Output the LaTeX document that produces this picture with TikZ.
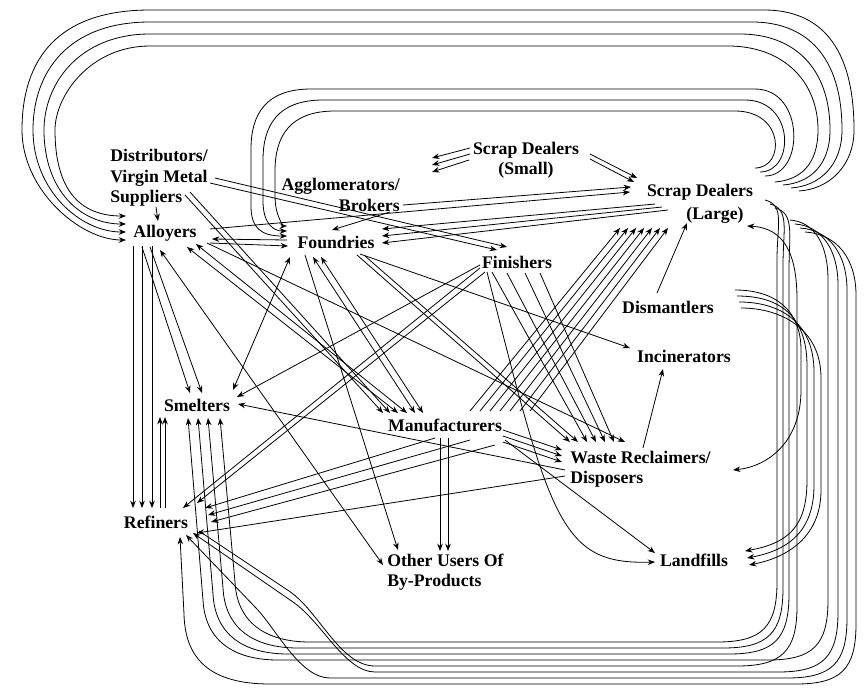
\documentclass[tikz,border=0pt]{standalone}
\usepackage{fontspec}
\setmainfont{Liberation Serif}
\usetikzlibrary{arrows.meta}
\newcommand{\NP}[3]{([shift={(#2,#3)}]#1)}
\begin{document}
\begin{tikzpicture}[x=0.75pt,y=-0.75pt,
  txt/.style={font=\fontsize{13.3}{15.4}\selectfont\bfseries,inner sep=0pt},
  ln/.style={line width=0.6pt,black},
  ar/.style={ln,-{Stealth[length=5.5pt,width=4.2pt]}},
  arb/.style={ln,{Stealth[length=5.5pt,width=4.2pt]}-{Stealth[length=5.5pt,width=4.2pt]}}]
\fill[white] (0,0) rectangle (864,690);
\useasboundingbox (0,0) rectangle (864,690);

% nodes
\node[txt,align=left,anchor=west] (dist) at (110,178) {Distributors/\\Virgin Metal\\Suppliers};
\node[txt,align=right,anchor=east] (aggl) at (400,195) {Agglomerators/\\Brokers};
\node[txt,align=center] (small) at (526,160) {Scrap Dealers\\(Small)};
\node[txt] (large) at (700,192) {Scrap Dealers};
\node[txt] (large2) at (715,215) {(Large)};
\node[txt] (allo) at (165,233) {Alloyers};
\node[txt] (found) at (336,242) {Foundries};
\node[txt] (fin) at (517,262) {Finishers};
\node[txt] (dism) at (668,307) {Dismantlers};
\node[txt] (inc) at (684,356) {Incinerators};
\node[txt] (smel) at (197,405) {Smelters};
\node[txt] (manu) at (445,425) {Manufacturers};
\node[txt,align=left,anchor=west] (wr) at (570,469) {Waste Reclaimers/\\Disposers};
\node[txt] (refi) at (156,522) {Refiners};
\node[txt,align=left,anchor=west] (other) at (387,572) {Other Users Of\\By-Products};
\node[txt] (land) at (694,560) {Landfills};

% distributors
\draw[ar] \NP{dist.west}{46}{29} -- \NP{allo.center}{-7}{-12};
\draw[ar] \NP{dist.west}{100}{5} -- \NP{fin.center}{-20}{-12};
\draw[ar] \NP{dist.west}{105}{0} -- \NP{fin.center}{-10}{-15};
\draw[ar] \NP{dist.west}{75}{17} -- \NP{manu.center}{-62}{-12};
\draw[ar] \NP{dist.west}{80}{14} -- \NP{manu.center}{-55}{-12};

% agglomerators / brokers / small dealers
\draw[ar] \NP{aggl.east}{-10}{17} -- \NP{found.center}{-4}{-12};
\draw[ar] \NP{aggl.east}{3}{10} -- \NP{large.center}{-69}{-5};
\draw[ar] \NP{small.center}{-56}{-12} -- \NP{aggl.east}{32}{-37};
\draw[ar] \NP{small.center}{-56}{-6} -- \NP{aggl.east}{32}{-30};
\draw[ar] \NP{small.center}{-57}{0} -- \NP{aggl.east}{32}{-23};
\draw[ar] \NP{small.center}{64}{-6} -- \NP{large.center}{-63}{-14};
\draw[ar] \NP{small.center}{64}{-1} -- \NP{large.center}{-66}{-10};

% alloyers / foundries / large
\draw[ar] \NP{allo.center}{45}{-4} -- \NP{large.center}{-70}{0};
\draw[ar] \NP{large.center}{-45}{12} -- \NP{found.center}{46}{-13};
\draw[ar] \NP{large.center}{-38}{15} -- \NP{found.center}{46}{-6};
\draw[ar] \NP{large.center}{-32}{18} -- \NP{found.center}{46}{1};
\draw[ar] \NP{found.center}{-49}{-2} -- \NP{allo.center}{47}{6};
\draw[ar] \NP{allo.center}{45}{10} -- \NP{found.center}{-48}{4};

% alloyers down
\foreach \k in {-32,-23,-13}{\draw[ar] \NP{allo.center}{\k}{13} -- \NP{refi.center}{\k+9}{-14};}
\draw[ar] \NP{refi.center}{4}{-14} -- \NP{smel.center}{-37}{12};
\draw[ar] \NP{refi.center}{9}{-14} -- \NP{smel.center}{-32}{12};
\draw[ar] \NP{allo.center}{-23}{14} -- \NP{smel.center}{-7}{-12};
\draw[ar] \NP{allo.center}{-15}{14} -- \NP{smel.center}{5}{-12};
\draw[arb] \NP{allo.center}{-5}{17} -- \NP{other.west}{-4}{-7};
\draw[arb] \NP{allo.center}{22}{14} -- \NP{manu.center}{-47}{-12};
\draw[arb] \NP{allo.center}{31}{11} -- \NP{manu.center}{-38}{-12};
\draw[ar] \NP{allo.center}{42}{10} -- \NP{wr.west}{55}{-27};

% foundries
\draw[arb] \NP{found.center}{-23}{15} -- \NP{manu.center}{-30}{-12};
\draw[arb] \NP{found.center}{-15}{15} -- \NP{manu.center}{-22}{-12};
\draw[arb] \NP{found.center}{-46}{15} -- \NP{smel.center}{36}{-15};
\draw[ar] \NP{found.center}{-31}{13} -- \NP{other.west}{11}{-22};
\draw[ar] \NP{found.center}{24}{12} -- \NP{inc.center}{-54}{-8};
\draw[ar] \NP{found.center}{21}{13} -- \NP{wr.west}{0}{-27};
\draw[ar] \NP{found.center}{29}{14} -- \NP{wr.west}{8}{-27};

% finishers
\draw[ar] \NP{fin.center}{-25}{10} -- \NP{wr.west}{17}{-27};
\draw[ar] \NP{fin.center}{-10}{11} -- \NP{wr.west}{26}{-27};
\draw[ar] \NP{fin.center}{8}{11} -- \NP{wr.west}{35}{-27};
\draw[ar] \NP{fin.center}{23}{11} -- \NP{wr.west}{44}{-27};
\draw[ar] \NP{fin.center}{-37}{6} -- \NP{refi.center}{27}{-14};
\draw[ar] \NP{fin.center}{-32}{10} -- \NP{refi.center}{41}{-19};
\draw[ar] \NP{fin.center}{-37}{3} -- \NP{smel.center}{40}{-8};
\draw[ar] \NP{fin.center}{-30}{10} .. controls \NP{fin.center}{33}{258} and \NP{land.center}{-134}{5} .. \NP{land.center}{-39}{2};

% manufacturers
\draw[ar] \NP{manu.center}{58}{5} -- \NP{wr.west}{-8}{-19};
\draw[ar] \NP{manu.center}{58}{11} -- \NP{wr.west}{-8}{-13};
\draw[ar] \NP{manu.center}{58}{17} -- \NP{wr.west}{-8}{-7};
\draw[ar] \NP{manu.center}{-10}{13} -- \NP{refi.center}{49}{-14};
\draw[ar] \NP{manu.center}{25}{15} -- \NP{refi.center}{52}{-7};
\draw[ar] \NP{manu.center}{50}{20} -- \NP{refi.center}{55}{0};
\draw[ar] \NP{manu.center}{60}{15} -- \NP{land.center}{-39}{-7};
\draw[ar] \NP{manu.center}{-5}{13} -- \NP{other.west}{53}{-21};
\draw[ar] \NP{manu.center}{3}{13} -- \NP{other.west}{61}{-21};
\foreach \k in {0,...,6}{\draw[ar] \NP{manu.center}{25+10*\k}{-14} -- \NP{large.center}{-80+8*\k}{36};}

% waste reclaimers
\draw[ar] \NP{wr.west}{-5}{1} -- \NP{smel.center}{41}{-1};
\draw[ar] \NP{wr.west}{-5}{7} -- \NP{refi.center}{41}{11};
\draw[ar] \NP{wr.west}{73}{-21} -- \NP{inc.center}{-21}{13};

% dismantlers
\draw[ar] \NP{dism.center}{-11}{-14} -- \NP{large2.center}{-28}{8};
\foreach \n in {0,1,2}{
  \pgfmathsetmacro{\Rx}{807+7*\n}
  \pgfmathsetmacro{\Sy}{296+6*\n}
  \pgfmathsetmacro{\Ey}{551+7*\n}
  \draw[ar] \NP{dism.center}{69+2*\n}{-11+6*\n} .. controls (780,\Sy) and (\Rx,\Sy+20) .. (\Rx,\Sy+70) -- (\Rx,480+5*\n) .. controls (\Rx,525+5*\n) and (790,\Ey-8) .. \NP{land.center}{51+2*\n}{-9+7*\n};
}
\draw[ar] \NP{dism.center}{67}{-17} .. controls (775,290) and (801,310) .. (801,350) -- (801,390) .. controls (801,440) and (770,466) .. \NP{wr.west}{163}{1};

% outer loops: large -> alloyers
\foreach \i in {0,...,3}{
  \pgfmathsetmacro{\Rx}{818+12*\i}
  \pgfmathsetmacro{\Ty}{46-12*\i}
  \pgfmathsetmacro{\Lx}{55-11*\i}
  \pgfmathsetmacro{\Ey}{216+8*\i}
  \draw[ar] \NP{large.center}{75+8*\i}{-10+3*\i} .. controls (800+10*\i,180+3*\i) and (\Rx,165) .. (\Rx,130) .. controls (\Rx,\Ty+35) and (\Rx-35,\Ty) .. (\Rx-90,\Ty) -- (150,\Ty) .. controls (\Lx+35,\Ty) and (\Lx,\Ty+50) .. (\Lx,130) .. controls (\Lx,190) and (80,\Ey) .. \NP{allo.center}{-39}{-17+8*\i};
}

% inner loops: large -> foundries
\foreach \j in {0,1,2}{
  \pgfmathsetmacro{\Rx}{785+10*\j}
  \pgfmathsetmacro{\Ty}{111-11*\j}
  \pgfmathsetmacro{\Lx}{275-12*\j}
  \pgfmathsetmacro{\Sy}{168+4*\j}
  \pgfmathsetmacro{\Ey}{226+5*\j}
  \draw[ar] \NP{large.center}{55+5*\j}{-24+4*\j} .. controls (\Rx,\Sy) and (\Rx,\Ty) .. (\Rx-50,\Ty) -- (\Lx+60,\Ty) .. controls (\Lx+15,\Ty) and (\Lx,\Ty+25) .. (\Lx,\Ty+60) -- (\Lx,\Ey-30) .. controls (\Lx,\Ey-8) and (\Lx+10,\Ey) .. \NP{found.center}{-49}{-16+5*\j};
}

% bottom loops: large -> smelters
\draw[ar] \NP{large.center}{65}{8} .. controls (785,205) and (777,225) .. (777,260) -- (777,582) .. controls (777,627) and (762,642) .. (717,642) -- (310,642) .. controls (265,642) and (237,622) .. (235,582) -- \NP{smel.center}{23}{13};
\draw[ar] \NP{large.center}{70}{12} .. controls (790,209) and (783,230) .. (783,265) -- (783,588) .. controls (783,633) and (768,648) .. (723,648) -- (298,648) .. controls (253,648) and (225,628) .. (223,588) -- \NP{smel.center}{11}{13};
\draw[ar] \NP{large.center}{75}{16} .. controls (795,213) and (789,235) .. (789,270) -- (789,594) .. controls (789,639) and (774,654) .. (729,654) -- (288,654) .. controls (243,654) and (215,634) .. (213,594) -- \NP{smel.center}{1}{13};
\draw[ar] \NP{large.center}{90}{28} .. controls (815,222) and (828,245) .. (828,280) -- (828,600) .. controls (828,645) and (813,660) .. (768,660) -- (278,660) .. controls (233,660) and (205,640) .. (203,600) -- \NP{smel.center}{-9}{13};
% bottom loops: large -> refiners
\draw[ar] \NP{large.center}{95}{32} .. controls (822,226) and (838,250) .. (838,285) -- (838,612) .. controls (838,657) and (823,672) .. (778,672) -- (375,672) .. controls (345,672) and (322,622) .. (293,602) -- \NP{refi.center}{37}{11};
\draw[ar] \NP{large.center}{100}{36} .. controls (830,230) and (847,255) .. (847,290) -- (847,618) .. controls (847,663) and (832,678) .. (787,678) -- (330,678) .. controls (300,678) and (277,630) .. (256,608) -- \NP{refi.center}{30}{13};
\draw[ar] \NP{large.center}{105}{40} .. controls (838,234) and (856,260) .. (856,295) -- (856,624) .. controls (856,669) and (841,684) .. (796,684) -- (270,684) .. controls (210,684) and (185,659) .. (184,614) -- \NP{refi.center}{24}{15};
% refiners -> large (right side)
\draw[ar] \NP{refi.center}{43}{9} -- (289,591) .. controls (319,611) and (340,666) .. (375,666) -- (737,666) .. controls (782,666) and (797,651) .. (797,606) -- (797,300) .. controls (797,255) and (785,228) .. \NP{large2.center}{32}{11};

\end{tikzpicture}
\end{document}
